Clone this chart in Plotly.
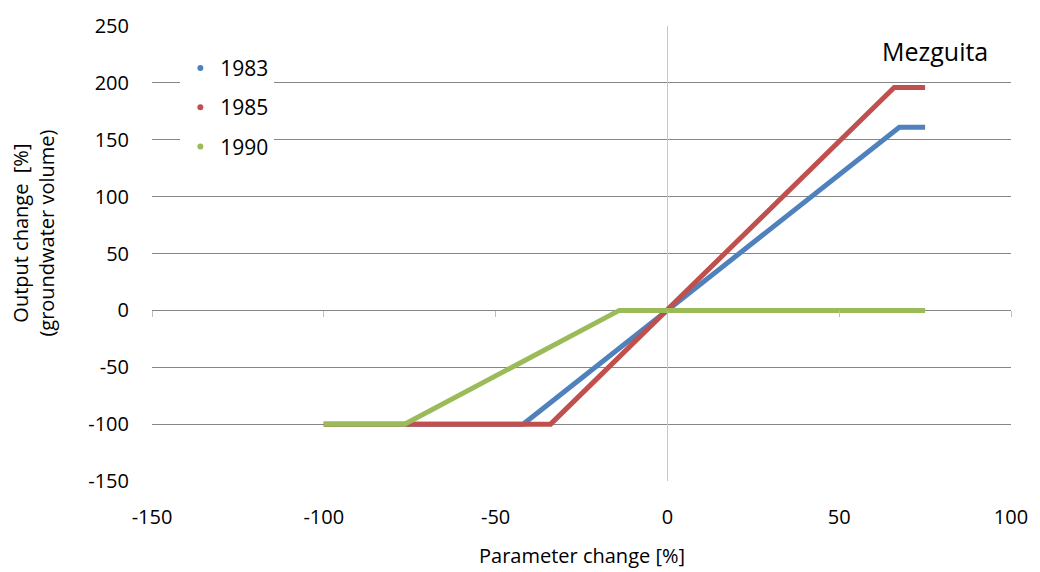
import plotly.graph_objects as go

# Sensitivity of groundwater volume to a parameter change, by calibration year
years = ["1983", "1985", "1990"]
colors = ["#4F81BD", "#C0504D", "#9BBB59"]

param_1983 = [-100, -42, 67.5, 75]
output_1983 = [-100, -100, 161, 161]

param_1985 = [-100, -34, 66, 75]
output_1985 = [-100, -100, 196, 196]

param_1990 = [-100, -76.5, -14, 75]
output_1990 = [-100, -100, 0, 0]

x_ticks = [-150, -100, -50, 0, 50, 100]
y_ticks = [-150, -100, -50, 0, 50, 100, 150, 200, 250]
x_tick_text = ["-150", "-100", "-50", "0", "50", "100"]
y_tick_text = ["-150", "-100", "-50", "0", "50", "100", "150", "200", "250"]

series = [
    (param_1983, output_1983),
    (param_1985, output_1985),
    (param_1990, output_1990),
]

FONT = "Open Sans"
GRID = "#868686"

fig = go.Figure()

# dense sampled curves rendered as thick lines
for (xs, ys), name, col in zip(series, years, colors):
    fig.add_trace(go.Scatter(
        x=xs, y=ys, mode="lines", name=name,
        line=dict(color=col, width=5),
        showlegend=False, hoverinfo="skip",
    ))

# legend entries shown as small dots
for i, (name, col) in enumerate(zip(years, colors)):
    fig.add_trace(go.Scatter(
        x=[None], y=[None], mode="markers", name=name,
        marker=dict(color=col, size=6),
        legendgroup=f"g{i}", showlegend=True,
    ))

# tick marks along the horizontal axis crossing at zero
fig.add_trace(go.Scatter(x=[None], y=[None], xaxis="x2", showlegend=False))

fig.update_layout(
    width=1040, height=572,
    margin=dict(l=152, r=20, t=23, b=91),
    paper_bgcolor="white", plot_bgcolor="white",
    font=dict(family=FONT, size=20, color="#000000"),
    xaxis=dict(
        range=[-150, 100], tickvals=x_ticks, ticktext=x_tick_text,
        showgrid=False, showline=False,
        zeroline=True, zerolinecolor="#C8C8C8", zerolinewidth=1,
        ticks="", ticklabelstandoff=22,
        tickfont=dict(family=FONT, size=20, color="#000000"),
    ),
    xaxis2=dict(
        range=[-150, 100], tickvals=x_ticks, overlaying="x",
        anchor="free", position=150 / 400, side="bottom",
        showgrid=False, showline=False, zeroline=False,
        ticks="outside", ticklen=6, tickcolor="#BFBFBF", tickwidth=1,
        showticklabels=False,
    ),
    yaxis=dict(
        range=[-150, 250], tickvals=y_ticks, ticktext=y_tick_text,
        showgrid=True, gridcolor=GRID, gridwidth=1,
        zeroline=True, zerolinecolor=GRID, zerolinewidth=1,
        showline=False, ticks="", ticklabelstandoff=22,
        tickfont=dict(family=FONT, size=20, color="#000000"),
    ),
    legend=dict(
        x=0.033, y=0.952, xanchor="left", yanchor="top",
        bgcolor="white", borderwidth=0,
        font=dict(family=FONT, size=21, color="#000000"),
        tracegroupgap=9, itemwidth=30,
    ),
    annotations=[
        dict(text="Mezguita", xref="paper", yref="paper", x=0.911, y=0.946,
             xanchor="center", yanchor="middle", showarrow=False,
             font=dict(family=FONT, size=25, color="#000000")),
        dict(text="Parameter change [%]", xref="paper", yref="paper",
             x=0.5, y=-0.164, xanchor="center", yanchor="middle",
             showarrow=False, font=dict(family=FONT, size=20, color="#000000")),
        dict(text="Output change  [%]<br>(groundwater volume)",
             xref="paper", yref="paper", x=-0.139, y=0.545,
             xanchor="center", yanchor="middle", textangle=-90,
             showarrow=False, font=dict(family=FONT, size=20, color="#000000")),
    ],
)

fig.write_html("out.html")
